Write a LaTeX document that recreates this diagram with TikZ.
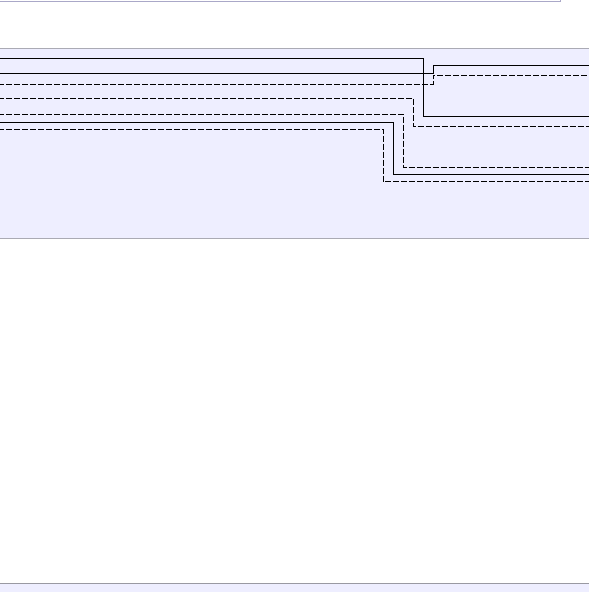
\documentclass[tikz,border=0pt]{standalone}
\begin{document}
\begin{tikzpicture}[x=1pt,y=-1pt,
  wire/.style={line width=0.9pt,black},
  dwire/.style={line width=0.9pt,black,dash pattern=on 6pt off 2pt},
  band/.style={fill=bandfill,draw=bandline,line width=1pt},
]
\definecolor{bandfill}{RGB}{238,238,255}
\definecolor{bandline}{RGB}{170,170,180}
\definecolor{boxline}{RGB}{170,168,200}
\useasboundingbox (0,0) rectangle (589,592);
\clip (0,0) rectangle (589,592);
% top box (cut off)
\draw[fill=white,draw=boxline,line width=1pt] (-10,-30) rectangle (560,1);
% main band
\draw[band] (-10,48) rectangle (600,238.3);
% bottom band
\draw[band,draw=bandline!90!black] (-10,583.3) rectangle (600,620);
% wires
\coordinate (e1) at (600,116);
\draw[wire]  (-10,58.3)  -| (423.3,116) -- (e1);
\coordinate (e2) at (600,65);
\draw[wire]  (-10,73.3)  -| (433.3,65) -- (e2);
\coordinate (e3) at (600,75);
\draw[dwire] (-10,84)    -| (433.3,75) -- (e3);
\coordinate (e4) at (600,126.7);
\draw[dwire] (-10,98.3)  -| (413.3,126.7) -- (e4);
\coordinate (e5) at (600,167.3);
\draw[dwire] (-10,114)   -| (403.3,167.3) -- (e5);
\coordinate (e6) at (600,174);
\draw[wire]  (-10,122.3) -| (393.3,174) -- (e6);
\coordinate (e7) at (600,181.7);
\draw[dwire] (-10,129)   -| (383.3,181.7) -- (e7);
\end{tikzpicture}
\end{document}
